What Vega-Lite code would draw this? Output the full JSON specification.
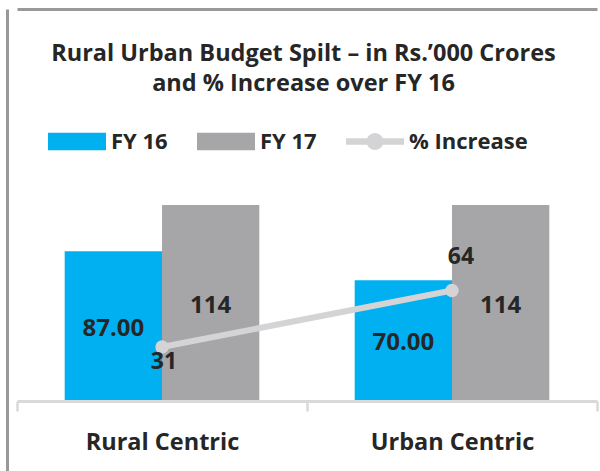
{
  "$schema": "https://vega.github.io/schema/vega-lite/v6.json",
  "width": 593,
  "height": 462,
  "autosize": {"type": "none"},
  "padding": {"left": 7, "top": 9, "right": 0, "bottom": 0},
  "background": "white",
  "config": {"view": {"stroke": null}, "font": "Open Sans"},
  "title": {
    "text": ["Rural Urban Budget Spilt – in Rs.’000 Crores", "and % Increase over FY 16"],
    "anchor": "middle",
    "fontSize": 23.5,
    "fontWeight": "bold",
    "color": "#262626",
    "font": "Open Sans",
    "lineHeight": 30,
    "dy": 90
  },
  "datasets": {
    "bars": [
      {"category": "Rural Centric", "series": "FY 16", "value": 87, "label": "87.00"},
      {"category": "Rural Centric", "series": "FY 17", "value": 114, "label": "114"},
      {"category": "Urban Centric", "series": "FY 16", "value": 70, "label": "70.00"},
      {"category": "Urban Centric", "series": "FY 17", "value": 114, "label": "114"}
    ],
    "pct": [
      {"category": "Rural Centric", "increase": 31},
      {"category": "Urban Centric", "increase": 64}
    ]
  },
  "resolve": {"scale": {"y": "independent"}, "axis": {"y": "independent"}},
  "layer": [
    {
      "data": {"name": "bars"},
      "mark": {"type": "bar"},
      "encoding": {
        "x": {
          "field": "category", "type": "nominal",
          "scale": {"range": [10, 590], "paddingInner": 0, "paddingOuter": 0},
          "axis": {
            "orient": "bottom", "offset": -70, "title": null, "labelAngle": 0,
            "domainColor": "#D9D9D9", "domainWidth": 3,
            "tickColor": "#D9D9D9", "tickWidth": 2.5, "tickSize": 10, "tickBand": "extent",
            "labelFont": "Open Sans", "labelFontSize": 23.5, "labelFontWeight": "bold",
            "labelColor": "#262626", "labelPadding": 19
          }
        },
        "xOffset": {"field": "series", "type": "nominal", "scale": {"domain": ["FY 16", "FY 17"], "paddingInner": 0, "paddingOuter": 0.49}},
        "y": {
          "field": "value", "type": "quantitative",
          "scale": {"domain": [-41.52, 228.65], "nice": false, "zero": false},
          "axis": {
            "title": null, "domain": true, "domainColor": "#999999", "domainWidth": 3,
            "ticks": false, "labels": false, "grid": true, "values": [228.65],
            "gridColor": "#999999", "gridWidth": 3
          }
        },
        "y2": {"datum": 0},
        "color": {
          "field": "series", "type": "nominal",
          "scale": {"domain": ["FY 16", "FY 17", "% Increase"], "range": ["#00B0F0", "#A6A6A8", "#D4D4D6"]},
          "legend": {
            "orient": "none", "legendX": 41, "legendY": 103.5, "direction": "horizontal",
            "title": null, "padding": 0, "symbolSize": 3364, "symbolType": "M-1,-0.3H1V0.3H-1Z",
            "symbolStrokeWidth": 0, "symbolOpacity": 1,
            "labelFont": "Open Sans", "labelFontSize": 22, "labelFontWeight": "bold",
            "labelColor": "#262626", "labelOffset": 5, "columnPadding": 29,
            "encode": {
              "symbols": {
                "update": {
                  "shape": {"signal": "datum.value === '% Increase' ? 'M-1,-0.11H1V0.11H-1Z M0.29,0A0.29,0.29 0 1,1 -0.29,0A0.29,0.29 0 1,1 0.29,0Z' : 'M-1,-0.3H1V0.3H-1Z'"}
                }
              }
            }
          }
        }
      }
    },
    {
      "data": {"name": "bars"},
      "mark": {"type": "text", "fontSize": 24, "fontWeight": "bold", "color": "#262626", "baseline": "middle", "dy": 3, "font": "Open Sans"},
      "encoding": {
        "x": {"field": "category", "type": "nominal"},
        "xOffset": {"field": "series", "type": "nominal"},
        "y": {"field": "value", "type": "quantitative", "scale": {"domain": [-83.04, 457.3], "nice": false, "zero": false}, "axis": null},
        "text": {"field": "label"}
      }
    },
    {
      "data": {"name": "pct"},
      "mark": {"type": "line", "color": "#D4D4D6", "strokeWidth": 6, "point": {"filled": true, "size": 180, "color": "#D4D4D6", "opacity": 1}},
      "encoding": {
        "x": {"field": "category", "type": "nominal"},
        "y": {"field": "increase", "type": "quantitative", "scale": {"domain": [-41.52, 228.65], "nice": false, "zero": false}, "axis": null}
      }
    },
    {
      "data": {"name": "pct"},
      "transform": [{"filter": "datum.category === 'Rural Centric'"}],
      "mark": {"type": "text", "fontSize": 23, "fontWeight": "bold", "color": "#262626", "baseline": "middle", "dx": 2, "dy": 15, "font": "Open Sans"},
      "encoding": {
        "x": {"field": "category", "type": "nominal"},
        "y": {"field": "increase", "type": "quantitative", "scale": {"domain": [-41.52, 228.65], "nice": false, "zero": false}, "axis": null},
        "text": {"field": "increase"}
      }
    },
    {
      "data": {"name": "pct"},
      "transform": [{"filter": "datum.category === 'Urban Centric'"}],
      "mark": {"type": "text", "fontSize": 23, "fontWeight": "bold", "color": "#262626", "baseline": "middle", "dx": 9, "dy": -34, "font": "Open Sans"},
      "encoding": {
        "x": {"field": "category", "type": "nominal"},
        "y": {"field": "increase", "type": "quantitative", "scale": {"domain": [-41.52, 228.65], "nice": false, "zero": false}, "axis": null},
        "text": {"field": "increase"}
      }
    }
  ]
}
